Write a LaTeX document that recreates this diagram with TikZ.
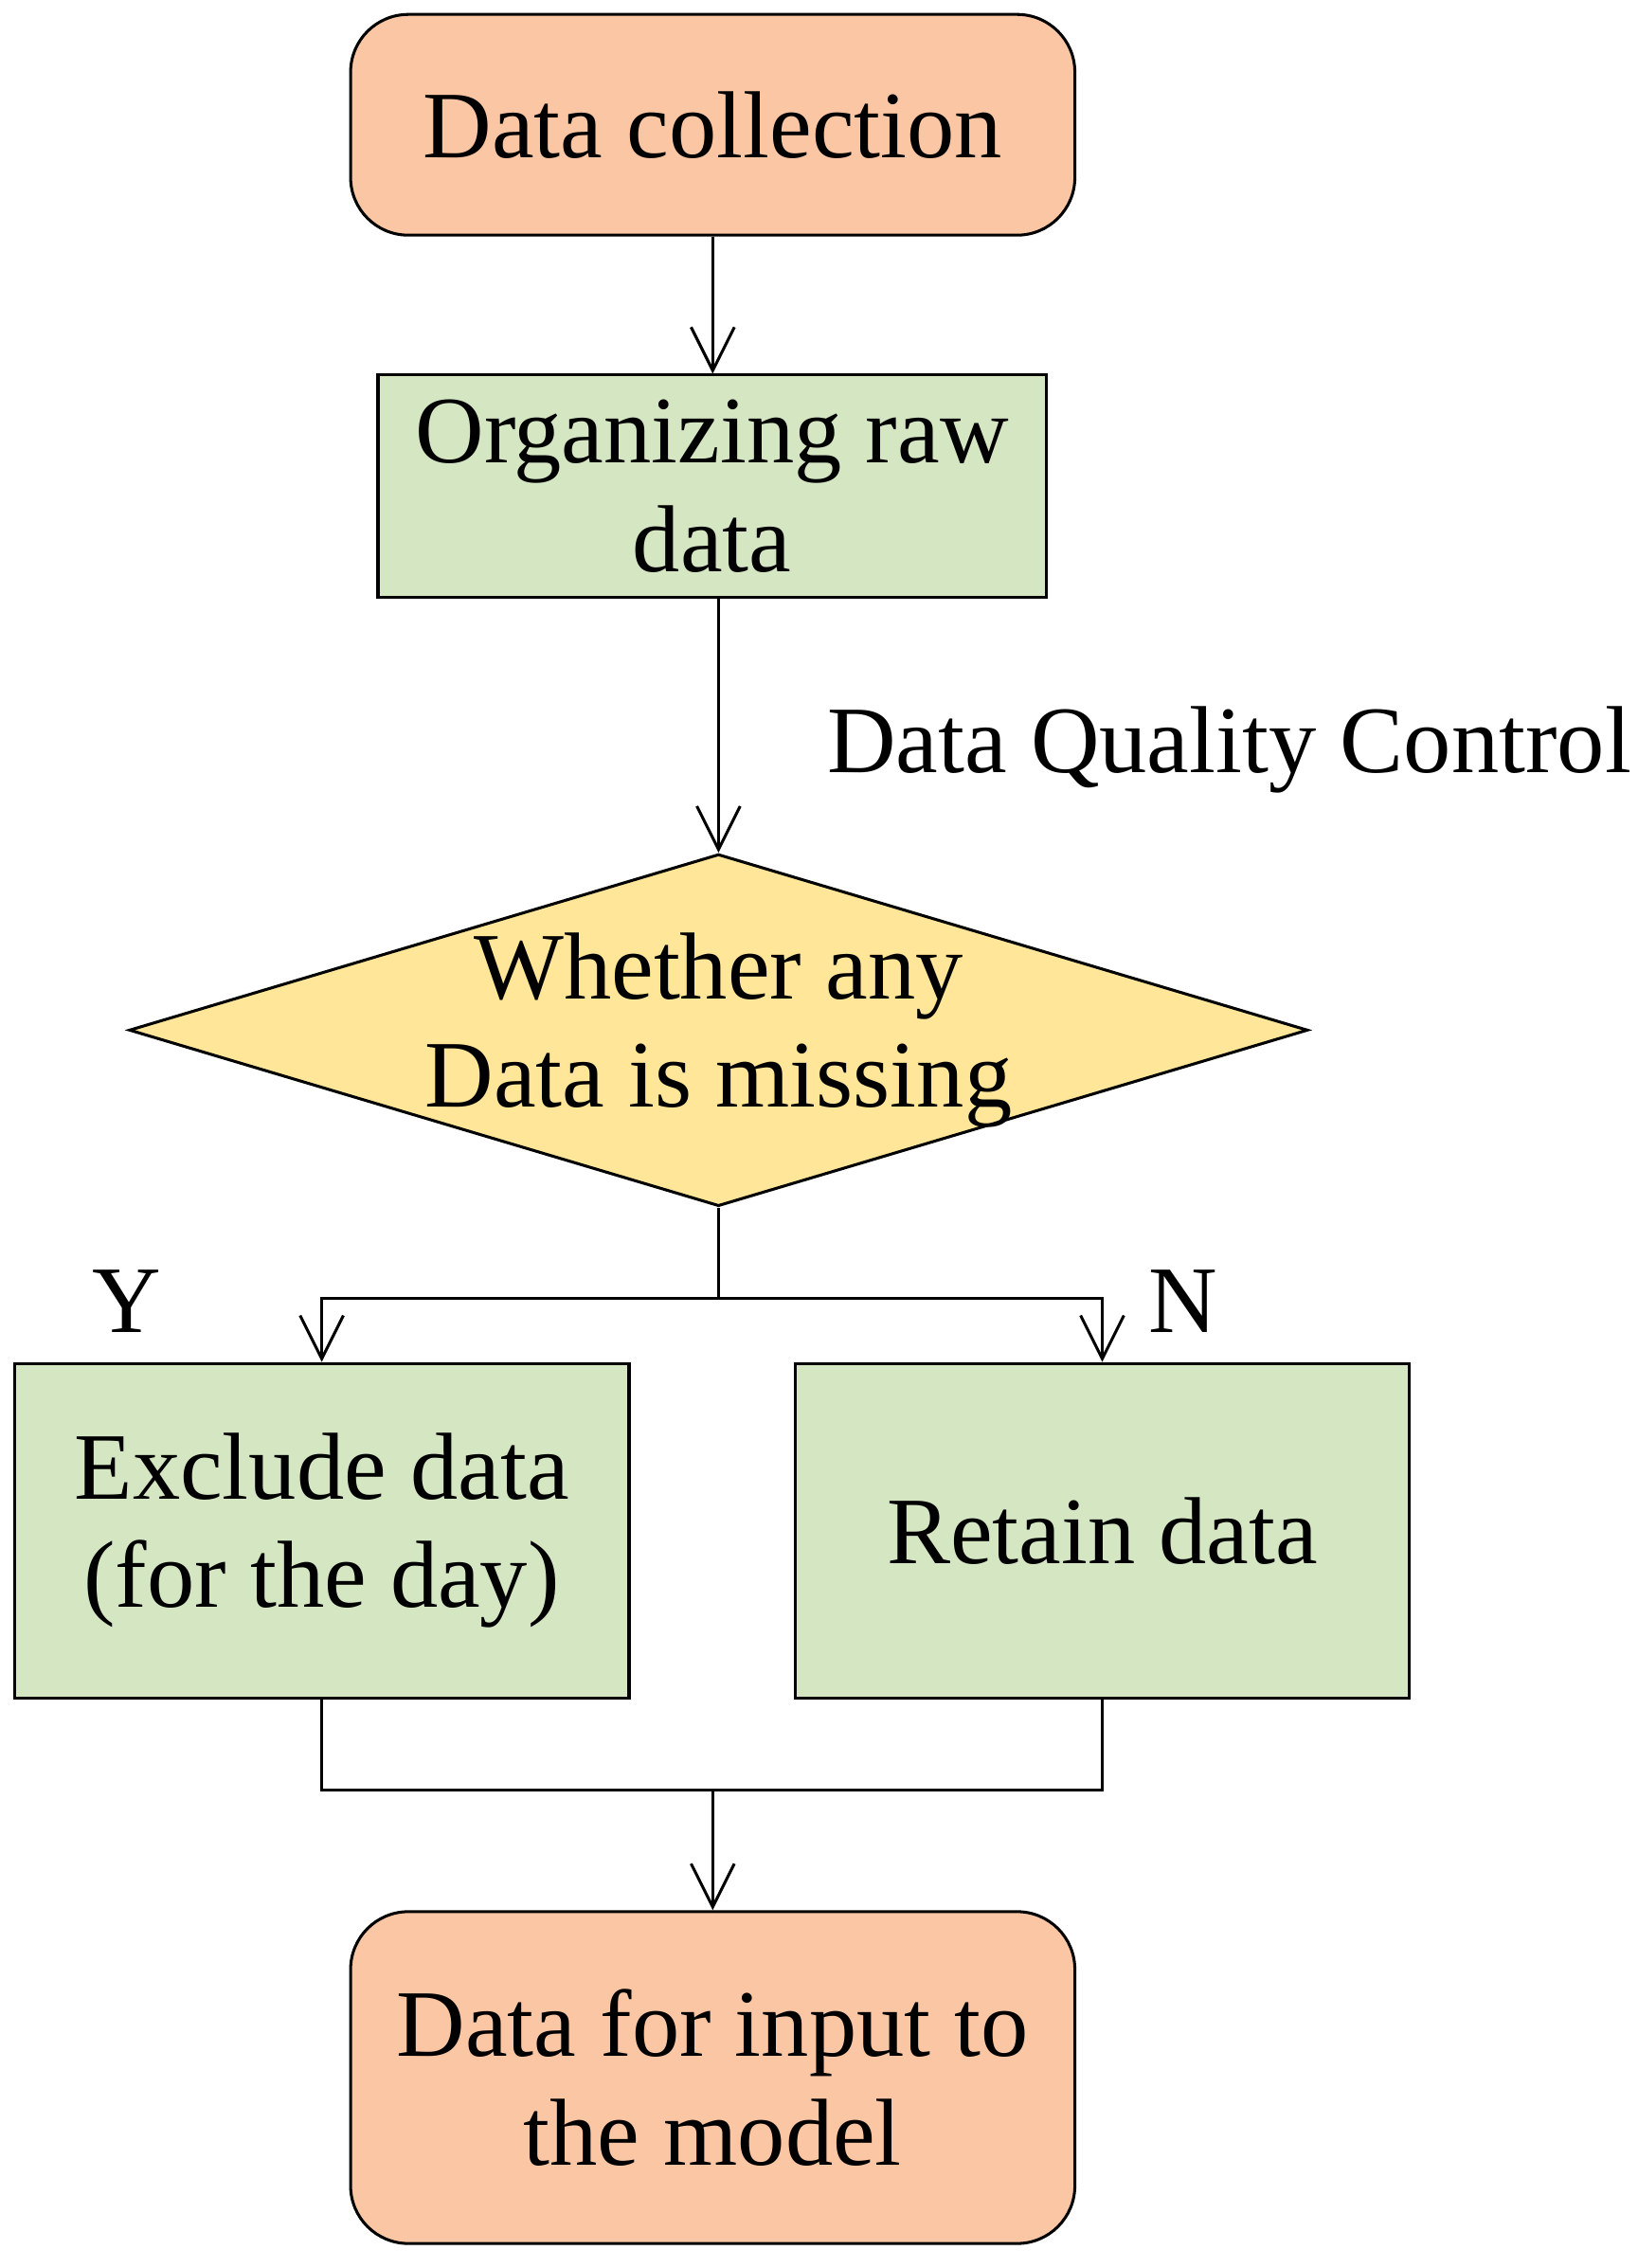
\documentclass[tikz,border=0pt]{standalone}
\usepackage{fontspec}
\setmainfont{Liberation Serif}
\usetikzlibrary{arrows.meta,shapes.geometric}
\definecolor{orng}{HTML}{FBC6A3}
\definecolor{grn}{HTML}{D5E6C3}
\definecolor{yel}{HTML}{FFE699}
\begin{document}
\begin{tikzpicture}[x=0.5pt,y=-0.5pt,
  every node/.style={font=\fontsize{33}{37.5}\selectfont, align=center, inner sep=0pt},
  box/.style={draw, line width=1pt},
  arr/.style={line width=1pt, -{Straight Barb[length=15pt,width=15pt,line width=1pt]}},
  ln/.style={line width=1pt}]
\useasboundingbox (0,0) rectangle (1135,1572);
\node[box, fill=orng, rounded corners=20pt, minimum width=251pt, minimum height=76.5pt] (dc) at (494,86.5) {Data collection};
\node[box, fill=grn, minimum width=231.5pt, minimum height=77pt] (org) at (493.5,337) {Organizing raw\\data};
\node[box, fill=yel, diamond, aspect=3.35, minimum width=408.5pt, minimum height=122pt] (dm) at (498,714) {};
\node at (498,714) {Whether any\\Data is missing};
\node[anchor=west] (dq) at (573,520) {Data Quality Control};
\node[box, fill=grn, minimum width=213pt, minimum height=116pt] (ex) at (223,1061) {Exclude data\\(for the day)};
\node[box, fill=grn, minimum width=213pt, minimum height=116pt] (rt) at (764,1061) {Retain data};
\node[box, fill=orng, rounded corners=20pt, minimum width=251pt, minimum height=115pt] (out) at (494,1440) {Data for input to\\the model};
\node (y) at (88,902) {Y};
\node (n) at (820,902) {N};
\coordinate (j) at (498,900);
\coordinate (b) at (494,1241);
\draw[arr] (dc.south) -- (org.north -| dc.south);
\draw[arr] (org.south -| dm.north) -- (dm.north);
\draw[ln] (dm.south) -- (j);
\draw[arr] (j) -| (ex.north);
\draw[arr] (j) -| (rt.north);
\draw[ln] (ex.south) |- (b) -| (rt.south);
\draw[arr] (b) -- (out.north);
\end{tikzpicture}
\end{document}
